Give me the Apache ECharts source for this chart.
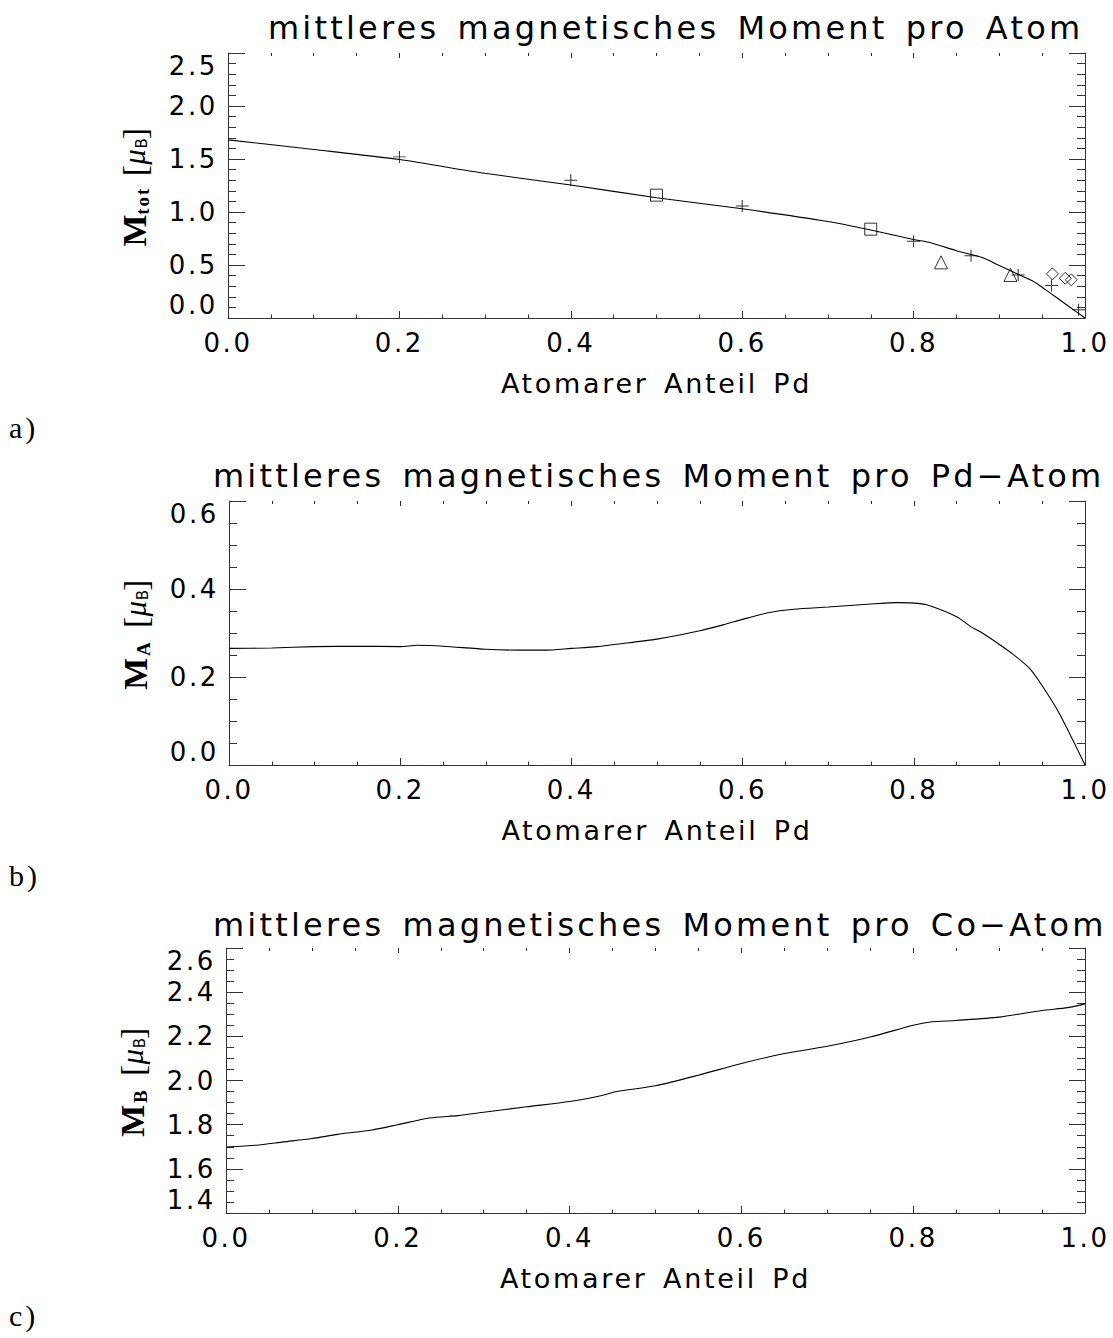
<!DOCTYPE html>
<html>
<head>
<meta charset="utf-8">
<script src="https://cdn.jsdelivr.net/npm/echarts@6.0.0/dist/echarts.min.js"></script>
<style>
    html, body { margin: 0; padding: 0; background: #fff; }
    #main { width: 1113px; height: 1338px; }
    /* IDL-Schrift ist breit gesperrt */
    #main text { letter-spacing: 0.1em; word-spacing: 0.15em; }
</style>
</head>
<body>
<div id="main"></div>
<script>
    // a) mittleres Moment pro Atom: Kurve + Messpunkte
    const xTotCurve = [0, 0.1, 0.2, 0.3, 0.4, 0.5, 0.6, 0.7, 0.75, 0.8, 0.82, 0.85, 0.88, 0.9, 0.92, 0.94, 0.95, 0.96, 0.98, 1.0]
    const yTotCurve = [1.68, 1.59, 1.495, 1.365, 1.255, 1.135, 1.03, 0.91, 0.83, 0.74, 0.71, 0.635, 0.57, 0.495, 0.42, 0.345, 0.29, 0.232, 0.116, 0.0]
    const plusPoints = [[0.2, 1.52], [0.4, 1.30], [0.6, 1.056], [0.8, 0.725], [0.867, 0.588], [0.922, 0.406], [0.961, 0.306], [0.9925, 0.078]]
    const squarePoints = [[0.5, 1.159], [0.75, 0.838]]
    const trianglePoints = [[0.832, 0.525], [0.913, 0.406]]
    const diamondPoints = [[0.962, 0.416], [0.977, 0.375], [0.984, 0.36]]

    // b) Moment pro Pd-Atom
    const xPdCurve = [0, 0.05, 0.1, 0.15, 0.2, 0.22, 0.25, 0.3, 0.34, 0.37, 0.4, 0.43, 0.45, 0.5, 0.55, 0.58, 0.6, 0.63, 0.66, 0.7, 0.75, 0.78, 0.8, 0.815, 0.85, 0.867, 0.88, 0.9, 0.915, 0.935, 0.95, 0.97, 1.0]
    const yPdCurve = [0.265, 0.266, 0.269, 0.270, 0.269, 0.272, 0.270, 0.263, 0.261, 0.261, 0.265, 0.269, 0.274, 0.286, 0.305, 0.320, 0.331, 0.346, 0.354, 0.359, 0.366, 0.369, 0.368, 0.364, 0.337, 0.314, 0.300, 0.274, 0.253, 0.22, 0.18, 0.117, 0.0]

    // c) Moment pro Co-Atom
    const xCoCurve = [0, 0.035, 0.067, 0.1, 0.13, 0.17, 0.2, 0.237, 0.27, 0.3, 0.35, 0.4, 0.435, 0.455, 0.5, 0.55, 0.6, 0.65, 0.7, 0.75, 0.8, 0.82, 0.85, 0.9, 0.95, 0.98, 1.0]
    const yCoCurve = [1.699, 1.707, 1.722, 1.737, 1.756, 1.776, 1.80, 1.83, 1.841, 1.856, 1.881, 1.905, 1.930, 1.950, 1.976, 2.024, 2.077, 2.122, 2.155, 2.197, 2.25, 2.265, 2.272, 2.287, 2.317, 2.33, 2.347]

    const xTicks = [0, 0.2, 0.4, 0.6, 0.8, 1.0]
    const titles = ['mittleres magnetisches Moment pro Atom', 'mittleres magnetisches Moment pro Pd\u2212Atom', 'mittleres magnetisches Moment pro Co\u2212Atom']
    const panelLabels = ['a)', 'b)', 'c)']
    const xName = 'Atomarer Anteil Pd'
    const yNames = ['{m|M}{s|tot}  {b|[}{mu|\u03bc}{sb|B}{b|]}', '{m|M}{s|A}  {b|[}{mu|\u03bc}{sb|B}{b|]}', '{m|M}{s|B}  {b|[}{mu|\u03bc}{sb|B}{b|]}']

    const sans = 'DejaVu Sans'
    const serif = 'Liberation Serif'
    const ink = '#333'

    const zip = (xs, ys) => xs.map((x, i) => [x, ys[i]])

    // Panel-Layout (Pixel)
    const grids = [
        {left: 228, right: 28, top: 53, height: 265},
        {left: 229, right: 28, top: 501, height: 264},
        {left: 226, right: 28, top: 948, height: 265},
    ]
    const yRanges = [
        {min: 0, max: 2.5, interval: 0.5, minor: 5},
        {min: 0, max: 0.6, interval: 0.2, minor: 4},
        {min: 1.4, max: 2.6, interval: 0.2, minor: 4},
    ]

    const nameRich = {
        m: {fontFamily: serif, fontWeight: 'bold', fontSize: 34, color: '#000', verticalAlign: 'top'},
        s: {fontFamily: serif, fontWeight: 'bold', fontSize: 19, color: '#000', verticalAlign: 'top', padding: [16, 0, 0, 1]},
        b: {fontFamily: serif, fontSize: 34, color: '#000', verticalAlign: 'top'},
        mu: {fontFamily: serif, fontStyle: 'italic', fontSize: 31, color: '#000', verticalAlign: 'top', padding: [2, 0, 0, 0]},
        sb: {fontFamily: sans, fontSize: 15, color: '#000', verticalAlign: 'top', padding: [17, 0, 0, 0]},
    }

    const xAxis = []
    const yAxis = []
    grids.forEach((g, i) => {
        const r = yRanges[i]
        xAxis.push({
            type: 'value', gridIndex: i, position: 'bottom',
            min: xTicks[0], max: xTicks[xTicks.length - 1], interval: 0.2,
            axisLine: {show: true, onZero: false, lineStyle: {color: ink, width: 1}},
            axisTick: {show: true, inside: true, length: 7, lineStyle: {color: ink}},
            minorTick: {show: true, splitNumber: 4, length: 3.5, lineStyle: {color: ink}},
            splitLine: {show: false},
            axisLabel: {margin: 12, color: '#000', fontFamily: sans, fontSize: 26, formatter: v => v.toFixed(1)},
            name: xName, nameLocation: 'middle', nameGap: 52,
            nameTextStyle: {fontFamily: sans, fontSize: 27, color: '#000'},
        })
        xAxis.push({
            type: 'value', gridIndex: i, position: 'top',
            min: xTicks[0], max: xTicks[xTicks.length - 1], interval: 0.2,
            axisLine: {show: false, onZero: false},
            axisTick: {show: true, inside: true, length: 5, lineStyle: {color: ink}},
            minorTick: {show: true, splitNumber: 4, length: 3, lineStyle: {color: ink}},
            splitLine: {show: false},
            axisLabel: {show: false},
        })
        yAxis.push({
            type: 'value', gridIndex: i, position: 'left',
            min: r.min, max: r.max, interval: r.interval,
            axisLine: {show: true, onZero: false, lineStyle: {color: ink, width: 1}},
            axisTick: {show: true, inside: true, length: 17, lineStyle: {color: ink}},
            minorTick: {show: true, splitNumber: r.minor, length: 8, lineStyle: {color: ink}},
            splitLine: {show: false},
            axisLabel: {
                margin: 10, color: '#000', fontFamily: sans, fontSize: 26,
                verticalAlignMinLabel: 'bottom', verticalAlignMaxLabel: 'top',
                formatter: v => v.toFixed(1)
            },
            name: yNames[i], nameLocation: 'middle', nameGap: 76, nameRotate: 90,
            nameTextStyle: {fontFamily: serif, fontSize: 30, color: '#000', rich: nameRich},
        })
        yAxis.push({
            type: 'value', gridIndex: i, position: 'right',
            min: r.min, max: r.max, interval: r.interval,
            axisLine: {show: true, onZero: false, lineStyle: {color: ink, width: 1}},
            axisTick: {show: true, inside: true, length: 16, lineStyle: {color: ink}},
            minorTick: {show: true, splitNumber: r.minor, length: 8, lineStyle: {color: ink}},
            splitLine: {show: false},
            axisLabel: {show: false},
        })
    })

    const curve = (idx, data) => ({
        type: 'line', xAxisIndex: idx * 2, yAxisIndex: idx * 2, data: data,
        symbol: 'none', showSymbol: false, smooth: 0.25, silent: true,
        lineStyle: {color: '#000', width: 1.1},
    })
    const marks = (symbol, size, data) => ({
        type: 'scatter', xAxisIndex: 0, yAxisIndex: 0, data: data,
        symbol: symbol, symbolSize: size, silent: true,
        itemStyle: {color: 'rgba(0,0,0,0)', borderColor: '#000', borderWidth: 1},
    })

    const option = {
        animation: false,
        backgroundColor: '#fff',
        title: titles.map((t, i) => ({
            text: t, left: [268, 213, 213][i], top: [12, 460, 909][i], padding: 0,
            textStyle: {fontFamily: sans, fontSize: 32, fontWeight: 'normal', color: '#000'}
        })).concat(panelLabels.map((t, i) => ({
            text: t, left: 9, top: [412, 860, 1300][i], padding: 0,
            textStyle: {fontFamily: serif, fontSize: 30, fontWeight: 'normal', color: '#000'}
        }))),
        grid: grids.map(g => Object.assign({outerBoundsMode: 'none'}, g)),
        xAxis: xAxis,
        yAxis: yAxis,
        series: [
            curve(0, zip(xTotCurve, yTotCurve)),
            marks('path://M0 6H12M6 0V12', [13, 12], plusPoints),
            marks('rect', [12, 12], squarePoints),
            marks('triangle', [13, 13], trianglePoints),
            marks('diamond', [12, 12], diamondPoints),
            curve(1, zip(xPdCurve, yPdCurve)),
            curve(2, zip(xCoCurve, yCoCurve)),
        ]
    }

    const chart = echarts.init(document.getElementById('main'), null, {renderer: 'svg'})
    chart.setOption(option)
    window.addEventListener('resize', () => chart.resize())
</script>
</body>
</html>
